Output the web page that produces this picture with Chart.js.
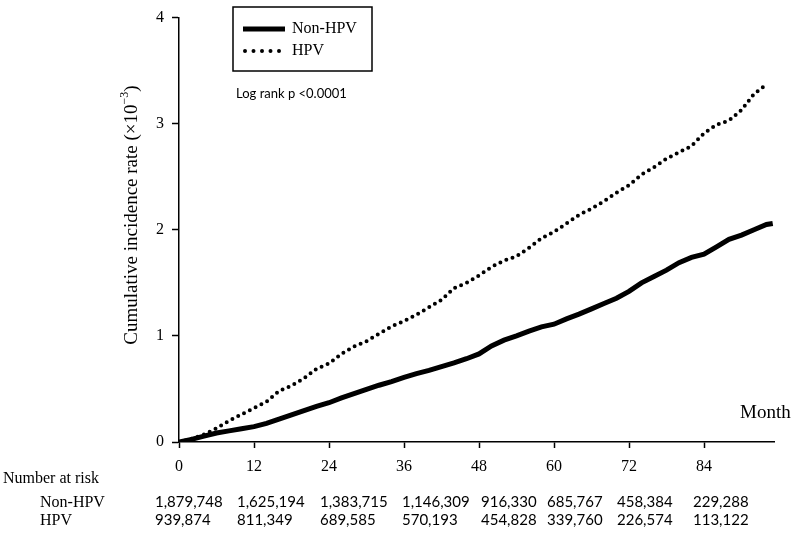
<!DOCTYPE html>
<html>
<head>
<meta charset="utf-8">
<script src="https://cdn.jsdelivr.net/npm/chart.js@4/dist/chart.umd.min.js"></script>
<style>
  html, body { margin: 0; padding: 0; background: #fff; }
  canvas { display: block; }
</style>
</head>
<body>
<canvas id="kmChart" width="798" height="536"></canvas>
<script>
// Cumulative incidence by month (x10^-3)
const months = [0, 2, 4, 6, 8, 10, 12, 14, 16, 18, 20, 22, 24, 26, 28, 30, 32, 34, 36, 38, 40, 42, 44, 46,
    48, 50, 52, 54, 56, 58, 60, 62, 64, 66, 68, 70, 72, 74, 76, 78, 80, 82, 84, 86, 88, 90, 92, 94];
const nonHpv = [0, 0.025, 0.055, 0.085, 0.105, 0.125, 0.145, 0.175, 0.215, 0.255, 0.295, 0.335, 0.37, 0.415,
    0.455, 0.495, 0.535, 0.57, 0.61, 0.645, 0.675, 0.71, 0.745, 0.785, 0.83, 0.905, 0.96, 1.0, 1.045, 1.085,
    1.11, 1.16, 1.205, 1.255, 1.305, 1.355, 1.42, 1.5, 1.56, 1.62, 1.69, 1.74, 1.77, 1.84, 1.91, 1.95, 2.0, 2.05];
const hpv = [0, 0.03, 0.07, 0.13, 0.2, 0.26, 0.32, 0.38, 0.48, 0.53, 0.6, 0.69, 0.74, 0.83, 0.9, 0.95, 1.02,
    1.09, 1.14, 1.2, 1.27, 1.34, 1.45, 1.5, 1.57, 1.65, 1.71, 1.75, 1.83, 1.92, 1.98, 2.06, 2.14, 2.2, 2.27,
    2.35, 2.42, 2.52, 2.59, 2.67, 2.73, 2.79, 2.91, 2.99, 3.03, 3.13, 3.28, 3.37];
// last observed Non-HPV point (follow-up runs slightly longer)
const nonHpvEndMonth = 95;
const nonHpvEndValue = 2.06;

const xTicks = [0, 12, 24, 36, 48, 60, 72, 84];
const yTicks = [0, 1, 2, 3, 4];

const riskLabel = 'Number at risk';
const riskGroups = ['Non-HPV', 'HPV'];
const riskNonHpv = ['1,879,748', '1,625,194', '1,383,715', '1,146,309', '916,330', '685,767', '458,384', '229,288'];
const riskHpv = ['939,874', '811,349', '689,585', '570,193', '454,828', '339,760', '226,574', '113,122'];

const serif = '"Liberation Serif", "Times New Roman", serif';
const sans = 'Lato, "Open Sans", sans-serif';

const toPoints = (xs, ys) => xs.map((m, i) => ({ x: m, y: ys[i] }));

// Legend box, log-rank note, axis titles and the at-risk table
const annotations = {
    id: 'annotations',
    afterDraw(chart) {
        const ctx = chart.ctx;
        const xs = chart.scales.x;
        ctx.save();
        ctx.fillStyle = '#000';
        ctx.strokeStyle = '#000';

        // legend
        ctx.lineWidth = 1.5;
        ctx.strokeRect(233, 7, 139, 64);
        ctx.beginPath();
        ctx.lineWidth = 5;
        ctx.moveTo(243, 29);
        ctx.lineTo(285, 29);
        ctx.stroke();
        ctx.beginPath();
        ctx.lineWidth = 4;
        ctx.lineCap = 'round';
        ctx.setLineDash([0, 8.5]);
        ctx.moveTo(245, 51);
        ctx.lineTo(284, 51);
        ctx.stroke();
        ctx.setLineDash([]);
        ctx.lineCap = 'butt';
        ctx.font = '16px ' + serif;
        ctx.textBaseline = 'middle';
        ctx.textAlign = 'left';
        ctx.fillText('Non-HPV', 292, 29);
        ctx.fillText('HPV', 292, 51);

        ctx.font = '13px ' + sans;
        ctx.fillText('Log rank p <0.0001', 236, 94);

        // x title
        ctx.font = '19px ' + serif;
        ctx.fillText('Month', 740, 413);

        // y title, rotated, with superscript exponent
        ctx.save();
        ctx.translate(132, 215);
        ctx.rotate(-Math.PI / 2);
        const main = 'Cumulative incidence rate (\u00d710';
        const sup = '\u22123';
        ctx.font = '19px ' + serif;
        const wMain = ctx.measureText(main).width;
        const wClose = ctx.measureText(')').width;
        ctx.font = '12px ' + serif;
        const wSup = ctx.measureText(sup).width;
        let x0 = -(wMain + wSup + wClose) / 2;
        ctx.font = '19px ' + serif;
        ctx.fillText(main, x0, 0);
        ctx.font = '12px ' + serif;
        ctx.fillText(sup, x0 + wMain, -7);
        ctx.font = '19px ' + serif;
        ctx.fillText(')', x0 + wMain + wSup, 0);
        ctx.restore();

        // number at risk table
        ctx.font = '16px ' + serif;
        ctx.fillText(riskLabel, 3, 479);
        ctx.fillText(riskGroups[0], 40, 503);
        ctx.fillText(riskGroups[1], 40, 521);
        ctx.font = '15px ' + sans;
        const offsets = [-24, -17, -9, -2, 2, -7, -12, -11];
        xTicks.forEach((m, i) => {
            const px = xs.getPixelForValue(m) + offsets[i];
            ctx.fillText(riskNonHpv[i], px, 502);
            ctx.fillText(riskHpv[i], px, 520);
        });
        ctx.restore();
    }
};

new Chart(document.getElementById('kmChart').getContext('2d'), {
    type: 'line',
    data: {
        datasets: [
            {
                label: 'Non-HPV',
                data: toPoints(months, nonHpv).concat([{ x: nonHpvEndMonth, y: nonHpvEndValue }]),
                borderColor: '#000',
                borderWidth: 5,
                pointRadius: 0,
                tension: 0,
            },
            {
                label: 'HPV',
                data: toPoints(months, hpv),
                borderColor: '#000',
                borderWidth: 4,
                borderDash: [0, 6.5],
                borderCapStyle: 'round',
                pointRadius: 0,
                tension: 0,
            }
        ]
    },
    options: {
        responsive: false,
        animation: false,
        devicePixelRatio: 1,
        layout: { padding: { top: 14, right: 24, left: 0, bottom: 0 } },
        plugins: {
            legend: { display: false },
            tooltip: { enabled: false }
        },
        scales: {
            x: {
                type: 'linear',
                min: 0,
                max: 95.2,
                afterBuildTicks: (s) => { s.ticks = xTicks.map(v => ({ value: v })); },
                afterFit: (s) => { s.height = 94; },
                grid: { drawOnChartArea: false, drawTicks: true, tickLength: 6, tickColor: '#000', tickWidth: 1.5 },
                border: { display: true, color: '#000', width: 1.5 },
                ticks: { color: '#000', padding: 9, maxRotation: 0, font: { family: serif, size: 16 } }
            },
            y: {
                min: 0,
                max: 4,
                afterBuildTicks: (s) => { s.ticks = yTicks.map(v => ({ value: v })); },
                afterFit: (s) => { s.width = 179; },
                grid: { drawOnChartArea: false, drawTicks: true, tickLength: 7, tickColor: '#000', tickWidth: 1.5 },
                border: { display: true, color: '#000', width: 1.5 },
                ticks: { color: '#000', padding: 8, font: { family: serif, size: 16 } }
            }
        }
    },
    plugins: [annotations]
});
</script>
</body>
</html>
